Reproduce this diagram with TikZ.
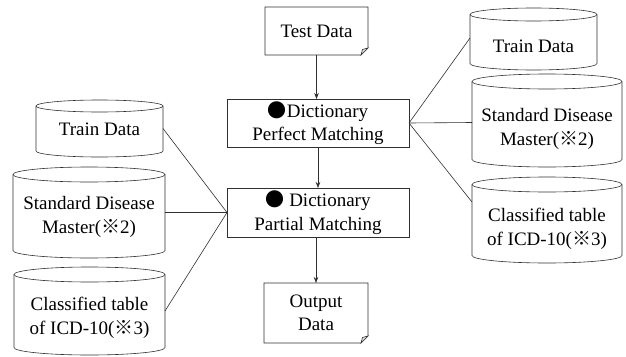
\documentclass[tikz,border=0pt]{standalone}
\usepackage{fontspec}
\setmainfont{Liberation Serif}
\newfontfamily\cjk{Noto Sans CJK JP}
\usetikzlibrary{arrows.meta}
\definecolor{lc}{HTML}{303030}
\newcommand\blt{{\cjk ●}}
\newcommand\refm{{\cjk ※}}
% #1 name, #2 x, #3 y, #4 width, #5 height, #6 ellipse radius, #7 text shift, #8 text
\newcommand\cylnode[8]{%
  \node[cylbox, minimum width=#4pt, minimum height=#5pt] (#1) at (#2,#3) {};
  \draw[conn] ([yshift=-#6pt]#1.north west) -- ([yshift=#6pt]#1.south west)
     arc[start angle=180, end angle=360, x radius=#4pt/2, y radius=#6pt]
     -- ([yshift=-#6pt]#1.north east);
  \draw[conn] ([yshift=-#6pt]#1.north) ellipse [x radius=#4pt/2, y radius=#6pt];
  \node[txt] (#1-text) at ([yshift=-#7pt]#1.center) {#8};
}
\newcommand\docdraw[1]{%
  \draw[conn] (#1.north west) -- (#1.north east) -- ([yshift=7pt]#1.south east)
     -- ([xshift=-7pt]#1.south east) -- (#1.south west) -- cycle;
  \filldraw[conn, fill=gray!25] ([yshift=7pt]#1.south east)
     -- ([xshift=-5.5pt,yshift=5.5pt]#1.south east) -- ([xshift=-7pt]#1.south east) -- cycle;
}
\begin{document}
\begin{tikzpicture}[x=1pt, y=-1pt, line width=0.6pt,
  font=\fontsize{19}{23.5}\selectfont,
  conn/.style={draw=lc, line width=0.6pt},
  arr/.style={conn, -{Stealth[length=6pt, width=4.5pt]}},
  proc/.style={draw=lc, line width=0.6pt, minimum width=182pt, inner sep=0pt, outer sep=0pt, align=center},
  docbox/.style={inner sep=0pt, outer sep=0pt, align=center},
  cylbox/.style={inner sep=0pt, outer sep=0pt},
  txt/.style={inner sep=0pt, align=center}]
\useasboundingbox (0,0) rectangle (626,356);

% central column
\node[docbox, minimum width=103pt, minimum height=48pt] (test) at (316.5,31) {Test Data};
\docdraw{test}
\node[proc, minimum height=48pt] (perf) at (318,123) {\blt Dictionary\\Perfect Matching};
\node[proc, minimum height=49pt] (part) at (318,212.5) {\blt\ Dictionary\\Partial Matching};
\node[docbox, minimum width=104pt, minimum height=60pt] (out) at (316,313) {Output\\Data};
\docdraw{out}

% left databases
\cylnode{trainL}{99.5}{128.5}{127}{57}{6}{1}{Train Data}
\cylnode{stdL}{89}{212.5}{152}{91}{7.5}{4.5}{Standard Disease\\Master(\refm2)}
\cylnode{clsL}{89.5}{311}{151}{88}{7.5}{7}{Classified table\\of ICD-10(\refm3)}

% right databases
\cylnode{trainR}{533.5}{39}{127}{62}{6.5}{7.5}{Train Data}
\cylnode{stdR}{547}{120.5}{150}{93}{7.5}{8.5}{Standard Disease\\Master(\refm2)}
\cylnode{clsR}{547}{220}{150}{86}{7.5}{9}{Classified table\\of ICD-10(\refm3)}

% arrows
\draw[arr] (test.south) -- (test.south |- perf.north);
\draw[arr] (perf.south) -- (part.north);
\draw[arr] (out.north |- part.south) -- (out.north);

% connectors
\draw[conn] (trainL.east) -- (part.west);
\draw[conn] (stdL.east) -- (part.west);
\draw[conn] (clsL.east) -- (part.west);
\draw[conn] (perf.east) -- ([yshift=1pt]trainR.west);
\draw[conn] (perf.east) -- ([yshift=-2pt]stdR.west);
\draw[conn] (perf.east) -- ([yshift=18pt]clsR.west);
\end{tikzpicture}
\end{document}
